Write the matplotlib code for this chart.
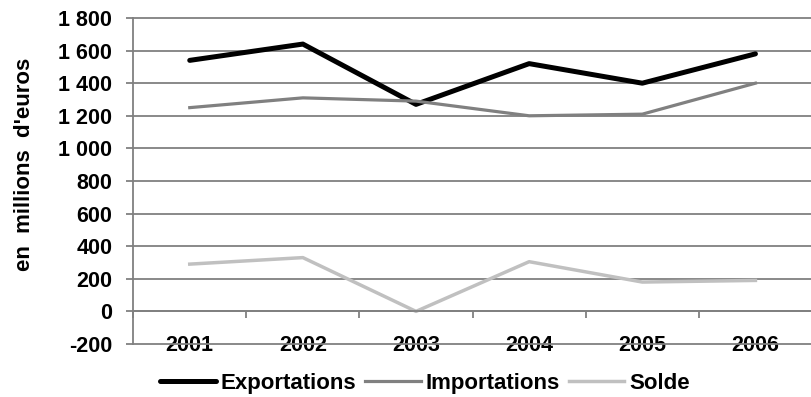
import matplotlib.pyplot as plt
from matplotlib.ticker import FuncFormatter

years = ["2001", "2002", "2003", "2004", "2005", "2006"]
exportations = [1540, 1640, 1270, 1520, 1400, 1580]
importations = [1250, 1310, 1290, 1200, 1210, 1400]
solde = [290, 330, 0, 305, 180, 190]

plt.rcParams["font.family"] = ["Liberation Sans", "DejaVu Sans"]
plt.rcParams["font.weight"] = "bold"

GRID = "#808080"

fig = plt.figure(figsize=(8.12, 3.97), dpi=100)
ax = fig.add_axes([0.164, 0.1335, 0.836, 0.8212])

x = list(range(len(years)))
ax.plot(x, exportations, color="black", lw=3.6, label="Exportations", solid_capstyle="round")
ax.plot(x, importations, color="#808080", lw=2.3, label="Importations")
ax.plot(x, solde, color="#c0c0c0", lw=2.5, label="Solde")

ax.set_xlim(-0.5, len(years) - 0.5)
ax.set_ylim(-200, 1800)
ax.set_yticks(range(-200, 1801, 200))
ax.yaxis.set_major_formatter(FuncFormatter(lambda v, p: f"{int(v):,}".replace(",", " ")))
ax.grid(axis="y", color=GRID, lw=1.3)
for gl in ax.get_ygridlines():
    gl.set_clip_on(False)
ax.set_axisbelow(True)

for s in ["top", "right"]:
    ax.spines[s].set_visible(False)
ax.spines["left"].set_color(GRID)
ax.spines["left"].set_linewidth(1.3)
ax.spines["bottom"].set_position(("data", 0))
ax.spines["bottom"].set_color(GRID)
ax.spines["bottom"].set_linewidth(1.3)

ax.set_xticks(x)
ax.set_xticklabels(years)
ax.set_xticks([i + 0.5 for i in range(-1, len(years))], minor=True)
ax.tick_params(axis="x", which="major", length=0, pad=17, labelsize=15.5)
ax.tick_params(axis="x", which="minor", length=5, width=1.3, color=GRID, direction="out")
ax.tick_params(axis="y", length=5, width=1.3, color=GRID, pad=10, labelsize=15.5)

ax.set_ylabel("en  millions  d'euros", fontsize=16, fontweight="bold")
ax.yaxis.set_label_coords(-0.144, 0.55)

ax.legend(loc="center", bbox_to_anchor=(0.43, -0.12), ncol=3, frameon=False,
          fontsize=16, handlelength=2.5, handletextpad=0.22, columnspacing=0.4)

fig.savefig("out.png", dpi=100)
